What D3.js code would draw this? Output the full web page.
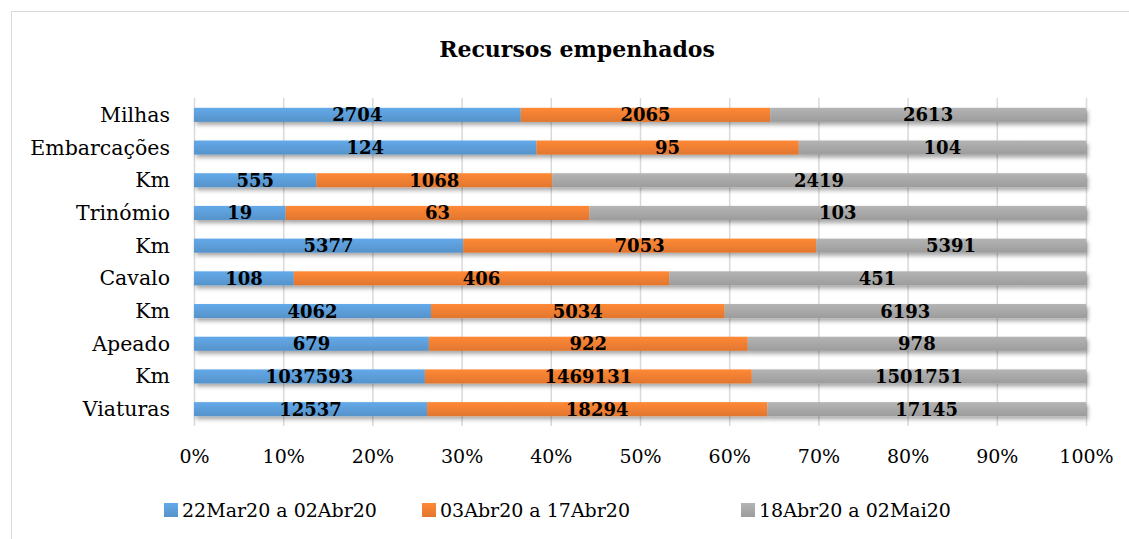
<!DOCTYPE html>
<html><head><meta charset="utf-8">
<script src="https://cdn.jsdelivr.net/npm/d3@7"></script>
<style>body{margin:0;background:#fff;}svg{display:block;}</style>
</head><body>
<svg id="c" width="1129" height="539"></svg>
<script>
const title = "Recursos empenhados";
const categories = ["Milhas","Embarcações","Km","Trinómio","Km","Cavalo","Km","Apeado","Km","Viaturas"];
const seriesNames = ["22Mar20 a 02Abr20","03Abr20 a 17Abr20","18Abr20 a 02Mai20"];
const s1 = [2704,124,555,19,5377,108,4062,679,1037593,12537];
const s2 = [2065,95,1068,63,7053,406,5034,922,1469131,18294];
const s3 = [2613,104,2419,103,5391,451,6193,978,1501751,17145];
const tickLabels = ["0%","10%","20%","30%","40%","50%","60%","70%","80%","90%","100%"];
const colors = ["#5B9BD5","#ED7D31","#A5A5A5"];

const svg = d3.select("#c");
const font = "'DejaVu Serif', 'Liberation Serif', serif";
const defs = svg.append("defs");
const f = defs.append("filter").attr("id","sh").attr("x","-5%").attr("y","-50%").attr("width","110%").attr("height","250%");
f.append("feDropShadow").attr("dx",2).attr("dy",3).attr("stdDeviation",2).attr("flood-color","#000").attr("flood-opacity",0.35);
colors.forEach((c,i)=>{
  const g = defs.append("linearGradient").attr("id","g"+i).attr("x1",0).attr("y1",0).attr("x2",0).attr("y2",1);
  g.append("stop").attr("offset","0%").attr("stop-color",d3.color(c).brighter(0.25));
  g.append("stop").attr("offset","100%").attr("stop-color",d3.color(c).darker(0.15));
});

svg.append("rect").attr("x",11.5).attr("y",11.5).attr("width",1140).attr("height",560)
  .attr("fill","#fff").attr("stroke","#d9d9d9");

svg.append("text").attr("x",577).attr("y",57).attr("text-anchor","middle")
  .attr("font-family",font).attr("font-weight","bold").attr("font-size",22).attr("fill","#000").text(title);

const x = d3.scaleLinear().domain([0,1]).range([194,1086]);
const y = d3.scaleBand().domain(d3.range(categories.length)).range([98.5,425.5]).paddingInner(0.57).paddingOuter(0.285);

const ticks = d3.range(0,1.0001,0.1);
svg.append("g").selectAll("line").data(ticks).join("line")
  .attr("x1",d=>x(d)+0.5).attr("x2",d=>x(d)+0.5).attr("y1",98).attr("y2",426)
  .attr("stroke","#d9d9d9").attr("stroke-width",1.5);

const rows = categories.map((c,i)=>{
  const vals=[s1[i],s2[i],s3[i]]; const tot=d3.sum(vals);
  let acc=0; return vals.map((v,k)=>{const r={i,k,v,x0:acc/tot,x1:(acc+v)/tot}; acc+=v; return r;});
});
const segs = rows.flat();

const gBars = svg.append("g");
rows.forEach((r,i)=>{
  const g = gBars.append("g").attr("filter","url(#sh)");
  g.selectAll("rect").data(r).join("rect")
    .attr("x",d=>x(d.x0)).attr("width",d=>x(d.x1)-x(d.x0))
    .attr("y",y(i)).attr("height",y.bandwidth())
    .attr("fill",d=>`url(#g${d.k})`);
});

svg.append("g").selectAll("text").data(segs).join("text")
  .attr("x",d=>x((d.x0+d.x1)/2)).attr("y",d=>y(d.i)+y.bandwidth()/2+6.5)
  .attr("text-anchor","middle").attr("font-family",font).attr("font-weight","bold")
  .attr("font-size",18).attr("fill","#000").text(d=>d.v);

svg.append("g").selectAll("text").data(categories).join("text")
  .attr("x",170).attr("y",(d,i)=>y(i)+y.bandwidth()/2+7).attr("text-anchor","end")
  .attr("font-family",font).attr("font-size",20.5).attr("fill","#000").text(d=>d);

const ax = d3.axisBottom(x).tickValues(ticks).tickFormat((d,i)=>tickLabels[i]).tickSize(0).tickPadding(0);
const axg = svg.append("g").attr("transform","translate(0,463)").call(ax);
axg.select(".domain").remove();
axg.selectAll("text").attr("font-family",font).attr("font-size",19).attr("fill","#000").attr("dy",0);

const legX = [182,440,759];
const lg = svg.append("g").selectAll("g").data(seriesNames).join("g")
  .attr("transform",(d,i)=>`translate(${legX[i]},517)`);
lg.append("rect").attr("x",-18).attr("y",-14).attr("width",14).attr("height",14).attr("fill",(d,i)=>`url(#g${i})`);
lg.append("text").attr("x",0).attr("y",0).attr("font-family",font).attr("font-size",19).attr("fill","#000").text(d=>d);
</script>
</body></html>
